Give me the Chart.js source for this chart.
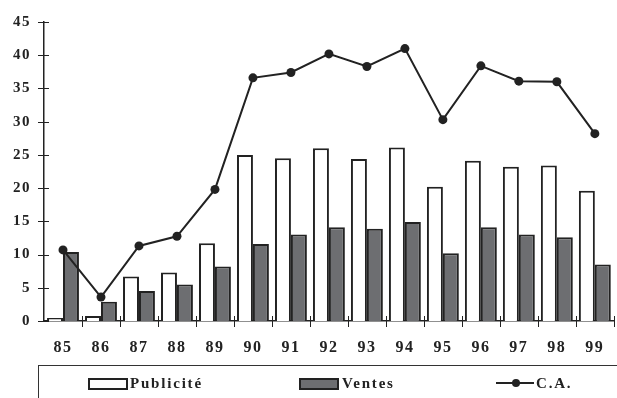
<!DOCTYPE html>
<html>
<head>
<meta charset="utf-8">
<script src="https://cdn.jsdelivr.net/npm/chart.js@4/dist/chart.umd.min.js"></script>
<style>
  html, body { margin: 0; padding: 0; background: #fff; overflow: hidden; }
  .wrap { position: relative; width: 617px; height: 398px; overflow: hidden; }
  #chart { position: absolute; left: 0; top: 0; }
  .legend {
    position: absolute; left: 38px; top: 365px; width: 600px; height: 40px;
    border-top: 1.5px solid #333; border-left: 1.5px solid #333;
    font-family: "Liberation Serif", "DejaVu Serif", serif; font-weight: bold;
    font-size: 15px; color: #222; letter-spacing: 1.8px;
  }
  .item { position: absolute; top: 9px; height: 16px; line-height: 16px; white-space: nowrap; }
  .box { position: absolute; top: 3px; width: 36px; height: 8px; border: 2px solid #222; }
  .lbl { position: absolute; top: 0; }
  .ln { position: absolute; top: 7px; width: 38px; height: 2px; background: #222; }
  .dot { position: absolute; top: 4px; left: 16px; width: 8px; height: 8px; border-radius: 50%; background: #222; }
</style>
</head>
<body>
<div class="wrap">
  <canvas id="chart" width="620" height="398"></canvas>
  <div class="legend">
    <div class="item" style="left:49px"><div class="box" style="background:#fff"></div><span class="lbl" style="left:42px">Publicité</span></div>
    <div class="item" style="left:260px"><div class="box" style="background:#6d6e71"></div><span class="lbl" style="left:43px">Ventes</span></div>
    <div class="item" style="left:457px"><div class="ln"></div><div class="dot"></div><span class="lbl" style="left:40px">C.A.</span></div>
  </div>
</div>
<script>
const years = ['85', '86', '87', '88', '89', '90', '91', '92', '93', '94', '95', '96', '97', '98', '99'];
const publicite = [0.45, 0.75, 6.7, 7.3, 11.7, 25.0, 24.5, 26.0, 24.4, 26.1, 20.2, 24.1, 23.2, 23.4, 19.6];
const ventes = [10.4, 2.9, 4.5, 5.5, 8.2, 11.6, 13.0, 14.1, 13.9, 14.9, 10.2, 14.1, 13.0, 12.6, 8.5];
const chiffreAffaires = [10.7, 3.6, 11.3, 12.75, 19.8, 36.6, 37.4, 40.2, 38.3, 41.0, 30.3, 38.4, 36.1, 36.0, 28.2];
const yTicks = [0, 5, 10, 15, 20, 25, 30, 35, 40, 45];

const ink = '#222222';
const fontSerif = 'Liberation Serif';

// the labels in the original are set with wide letter spacing
const tracking = {
  id: 'tracking',
  beforeDraw(chart) { chart.ctx.letterSpacing = '1.5px'; },
  afterDraw(chart) { chart.ctx.letterSpacing = '0px'; }
};

// short tick marks that cross the axes on both sides
const crossTicks = {
  id: 'crossTicks',
  afterDraw(chart) {
    const {ctx, chartArea, scales: {x, y}} = chart;
    ctx.save();
    ctx.strokeStyle = ink;
    ctx.lineWidth = 1;
    ctx.beginPath();
    yTicks.forEach(v => {
      const py = Math.round(y.getPixelForValue(v)) + 0.5;
      ctx.moveTo(chartArea.left - 6, py);
      ctx.lineTo(chartArea.left + 5, py);
    });
    for (let i = 1; i <= years.length; i++) {
      const px = Math.round((x.getPixelForValue(i - 1) + x.getPixelForValue(i)) / 2) + 0.5;
      ctx.moveTo(px, chartArea.bottom - 5);
      ctx.lineTo(px, chartArea.bottom + 6);
    }
    ctx.stroke();
    ctx.restore();
  }
};

new Chart(document.getElementById('chart'), {
  data: {
    labels: years,
    datasets: [
      {
        type: 'line',
        label: 'C.A.',
        data: chiffreAffaires,
        borderColor: ink,
        backgroundColor: ink,
        borderWidth: 2,
        pointRadius: 4.5,
        pointBackgroundColor: ink,
        pointBorderWidth: 0,
        tension: 0,
        order: 0,
      },
      {
        type: 'bar',
        label: 'Publicité',
        data: publicite,
        backgroundColor: '#ffffff',
        borderColor: ink,
        borderWidth: 2,
        borderSkipped: 'bottom',
        categoryPercentage: 0.84,
        barPercentage: 1,
        order: 1,
      },
      {
        type: 'bar',
        label: 'Ventes',
        data: ventes,
        backgroundColor: '#6d6e71',
        borderColor: ink,
        borderWidth: 2,
        borderSkipped: 'bottom',
        categoryPercentage: 0.84,
        barPercentage: 1,
        order: 1,
      },
    ]
  },
  options: {
    responsive: false,
    animation: false,
    layout: { padding: { top: 16, right: 0, bottom: 33, left: 0 } },
    plugins: {
      legend: { display: false },
      tooltip: { enabled: false },
    },
    scales: {
      x: {
        offset: true,
        grid: { display: false, drawTicks: false },
        border: { color: ink, width: 1.5 },
        ticks: {
          color: ink,
          padding: 17,
          font: { family: fontSerif, weight: 'bold', size: 16 },
        },
        afterFit(scale) { scale.height = 44; },
      },
      y: {
        min: 0,
        max: 45,
        grid: { display: false, drawTicks: false },
        border: { color: ink, width: 1.5 },
        afterBuildTicks(scale) { scale.ticks = yTicks.map(v => ({ value: v })); },
        ticks: {
          color: ink,
          padding: 13,
          font: { family: fontSerif, weight: 'bold', size: 15 },
        },
        afterFit(scale) { scale.width = 44; },
      },
    },
  },
  plugins: [tracking, crossTicks],
});
</script>
</body>
</html>
